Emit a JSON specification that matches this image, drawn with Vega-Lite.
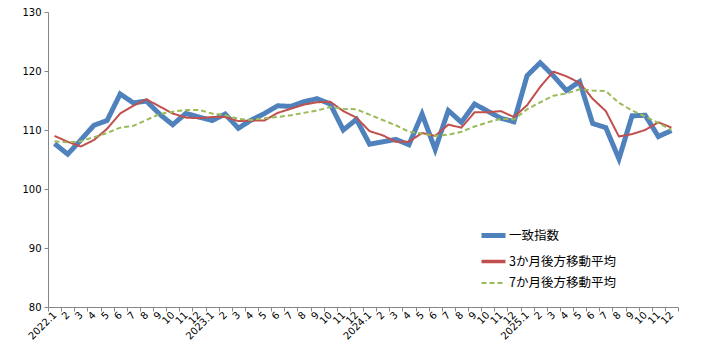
{
  "$schema": "https://vega.github.io/schema/vega-lite/v6.json",
  "width": 630,
  "height": 295,
  "autosize": {"type": "none"},
  "padding": {"left": 48, "top": 12, "right": 23, "bottom": 50},
  "background": "white",
  "config": {
    "view": {"stroke": null},
    "font": "Noto Sans CJK JP",
    "axis": {"grid": false, "domainColor": "#868686", "tickColor": "#868686", "labelColor": "#000000", "labelFont": "DejaVu Sans", "labelFontSize": 10, "tickSize": 4, "title": null}
  },
  "data": {"values": [
    {"m":"2022.1","一致指数":107.7,"3か月後方移動平均":109.0,"7か月後方移動平均":108.1},
    {"m":"2022.2","一致指数":105.9,"3か月後方移動平均":108.0,"7か月後方移動平均":107.9},
    {"m":"2022.3","一致指数":108.3,"3か月後方移動平均":107.2,"7か月後方移動平均":108.1},
    {"m":"2022.4","一致指数":110.8,"3か月後方移動平均":108.3,"7か月後方移動平均":108.8},
    {"m":"2022.5","一致指数":111.6,"3か月後方移動平均":110.2,"7か月後方移動平均":109.5},
    {"m":"2022.6","一致指数":116.1,"3か月後方移動平均":112.8,"7か月後方移動平均":110.4},
    {"m":"2022.7","一致指数":114.6,"3か月後方移動平均":114.1,"7か月後方移動平均":110.7},
    {"m":"2022.8","一致指数":114.9,"3か月後方移動平均":115.2,"7か月後方移動平均":111.7},
    {"m":"2022.9","一致指数":112.7,"3か月後方移動平均":114.0,"7か月後方移動平均":112.7},
    {"m":"2022.10","一致指数":110.9,"3か月後方移動平均":112.8,"7か月後方移動平均":113.1},
    {"m":"2022.11","一致指数":112.8,"3か月後方移動平均":112.1,"7か月後方移動平均":113.4},
    {"m":"2022.12","一致指数":112.2,"3か月後方移動平均":112.0,"7か月後方移動平均":113.4},
    {"m":"2023.1","一致指数":111.6,"3か月後方移動平均":112.2,"7か月後方移動平均":112.8},
    {"m":"2023.2","一致指数":112.7,"3か月後方移動平均":112.2,"7か月後方移動平均":112.5},
    {"m":"2023.3","一致指数":110.3,"3か月後方移動平均":111.5,"7か月後方移動平均":111.9},
    {"m":"2023.4","一致指数":111.7,"3か月後方移動平均":111.6,"7か月後方移動平均":111.7},
    {"m":"2023.5","一致指数":112.8,"3か月後方移動平均":111.6,"7か月後方移動平均":112.0},
    {"m":"2023.6","一致指数":114.1,"3か月後方移動平均":112.9,"7か月後方移動平均":112.2},
    {"m":"2023.7","一致指数":114.0,"3か月後方移動平均":113.6,"7か月後方移動平均":112.5},
    {"m":"2023.8","一致指数":114.8,"3か月後方移動平均":114.3,"7か月後方移動平均":112.9},
    {"m":"2023.9","一致指数":115.3,"3か月後方移動平均":114.7,"7か月後方移動平均":113.3},
    {"m":"2023.10","一致指数":114.4,"3か月後方移動平均":114.8,"7か月後方移動平均":113.9},
    {"m":"2023.11","一致指数":110.0,"3か月後方移動平均":113.2,"7か月後方移動平均":113.6},
    {"m":"2023.12","一致指数":111.8,"3か月後方移動平均":112.1,"7か月後方移動平均":113.5},
    {"m":"2024.1","一致指数":107.6,"3か月後方移動平均":109.8,"7か月後方移動平均":112.6},
    {"m":"2024.2","一致指数":108.0,"3か月後方移動平均":109.1,"7か月後方移動平均":111.7},
    {"m":"2024.3","一致指数":108.4,"3か月後方移動平均":108.0,"7か月後方移動平均":110.8},
    {"m":"2024.4","一致指数":107.5,"3か月後方移動平均":108.0,"7か月後方移動平均":109.7},
    {"m":"2024.5","一致指数":112.7,"3か月後方移動平均":109.5,"7か月後方移動平均":109.4},
    {"m":"2024.6","一致指数":106.7,"3か月後方移動平均":109.0,"7か月後方移動平均":109.0},
    {"m":"2024.7","一致指数":113.3,"3か月後方移動平均":110.9,"7か月後方移動平均":109.2},
    {"m":"2024.8","一致指数":111.3,"3か月後方移動平均":110.4,"7か月後方移動平均":109.7},
    {"m":"2024.9","一致指数":114.4,"3か月後方移動平均":113.0,"7か月後方移動平均":110.6},
    {"m":"2024.10","一致指数":113.2,"3か月後方移動平均":113.0,"7か月後方移動平均":111.3},
    {"m":"2024.11","一致指数":112.0,"3か月後方移動平均":113.2,"7か月後方移動平均":111.9},
    {"m":"2024.12","一致指数":111.4,"3か月後方移動平均":112.2,"7か月後方移動平均":111.8},
    {"m":"2025.1","一致指数":119.2,"3か月後方移動平均":114.2,"7か月後方移動平均":113.5},
    {"m":"2025.2","一致指数":121.4,"3か月後方移動平均":117.3,"7か月後方移動平均":114.7},
    {"m":"2025.3","一致指数":119.2,"3か月後方移動平均":119.9,"7か月後方移動平均":115.8},
    {"m":"2025.4","一致指数":116.7,"3か月後方移動平均":119.1,"7か月後方移動平均":116.2},
    {"m":"2025.5","一致指数":118.2,"3か月後方移動平均":118.0,"7か月後方移動平均":116.9},
    {"m":"2025.6","一致指数":111.1,"3か月後方移動平均":115.3,"7か月後方移動平均":116.7},
    {"m":"2025.7","一致指数":110.4,"3か月後方移動平均":113.2,"7か月後方移動平均":116.6},
    {"m":"2025.8","一致指数":105.1,"3か月後方移動平均":108.9,"7か月後方移動平均":114.6},
    {"m":"2025.9","一致指数":112.4,"3か月後方移動平均":109.3,"7か月後方移動平均":113.3},
    {"m":"2025.10","一致指数":112.5,"3か月後方移動平均":110.0,"7か月後方移動平均":112.3},
    {"m":"2025.11","一致指数":108.9,"3か月後方移動平均":111.3,"7か月後方移動平均":111.2},
    {"m":"2025.12","一致指数":109.9,"3か月後方移動平均":110.4,"7か月後方移動平均":110.0}
  ]},
  "encoding": {
    "x": {
      "field": "m", "type": "ordinal", "sort": null,
      "scale": {"type": "band", "paddingInner": 0, "paddingOuter": 0},
      "axis": {
        "tickBand": "extent", "labelAngle": -45, "labelAlign": "right", "labelBaseline": "middle",
        "labelPadding": 2, "labelOverlap": false,
        "labelExpr": "split(datum.value, '.')[1] == '1' ? datum.value : split(datum.value, '.')[1]"
      }
    }
  },
  "layer": [
    {
      "mark": {"type": "line", "strokeJoin": "miter"},
      "encoding": {
        "y": {"field": "一致指数", "type": "quantitative", "scale": {"domain": [80, 130], "nice": false, "zero": false}, "axis": {"values": [80, 90, 100, 110, 120, 130], "labelPadding": 3}},
        "color": {"datum": "一致指数", "type": "nominal", "scale": {"domain": ["一致指数", "3か月後方移動平均", "7か月後方移動平均"], "range": ["#4F81BD", "#C0504D", "#9BBB59"]},
          "legend": {"orient": "none", "legendX": 431, "legendY": 209, "title": null, "symbolType": "stroke", "symbolSize": 576, "labelFont": "Noto Sans CJK JP", "labelFontSize": 12.5, "labelColor": "#000000", "rowPadding": 1.5, "labelOffset": 1}},
        "strokeWidth": {"datum": "一致指数", "type": "nominal", "scale": {"domain": ["一致指数", "3か月後方移動平均", "7か月後方移動平均"], "range": [5, 2]}},
        "strokeDash": {"datum": "一致指数", "type": "nominal", "scale": {"domain": ["一致指数", "3か月後方移動平均", "7か月後方移動平均"], "range": [[1, 0], [1, 0], [5, 3]]}}
      }
    },
    {
      "mark": {"type": "line", "strokeWidth": 2},
      "encoding": {
        "y": {"field": "3か月後方移動平均", "type": "quantitative"},
        "color": {"datum": "3か月後方移動平均", "type": "nominal"},
        "strokeDash": {"datum": "3か月後方移動平均", "type": "nominal"}
      }
    },
    {
      "mark": {"type": "line", "strokeWidth": 2},
      "encoding": {
        "y": {"field": "7か月後方移動平均", "type": "quantitative"},
        "color": {"datum": "7か月後方移動平均", "type": "nominal"},
        "strokeDash": {"datum": "7か月後方移動平均", "type": "nominal"}
      }
    }
  ]
}
